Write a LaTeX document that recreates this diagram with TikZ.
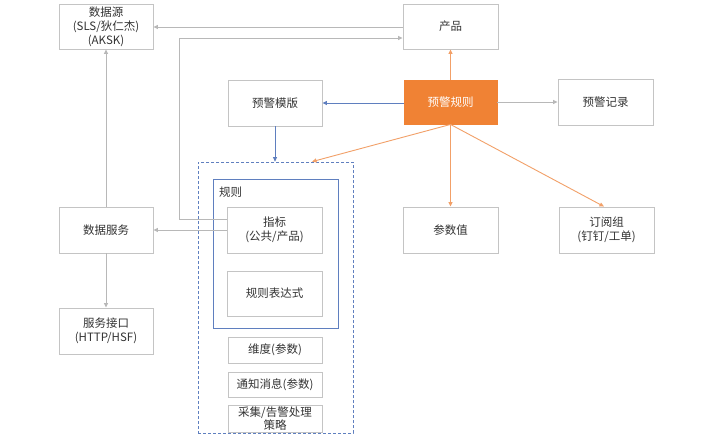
\documentclass[tikz,border=0pt]{standalone}
\usepackage{fontspec}
\setmainfont{Noto Sans CJK SC}
\usetikzlibrary{arrows.meta}
\definecolor{borange}{HTML}{F08234}
\definecolor{lorange}{HTML}{F2A068}
\definecolor{bblue}{HTML}{5F7FBF}
\definecolor{bgray}{HTML}{C4C4C4}
\definecolor{lgray}{HTML}{B8B8B8}
\definecolor{tcol}{HTML}{333333}
\begin{document}
\begin{tikzpicture}[x=1pt,y=-1pt,
  box/.style={draw=bgray,line width=0.9pt,fill=white,inner sep=0pt,font=\fontsize{11.5}{14}\selectfont,text=tcol,align=center},
  garrow/.style={draw=lgray,line width=0.8pt,-{Triangle[length=4.5pt,width=4pt]}},
  oarrow/.style={draw=lorange,line width=0.9pt,-{Triangle[length=4.5pt,width=4pt]}},
  barrow/.style={draw=bblue,line width=0.9pt,-{Triangle[length=4.5pt,width=4pt]}}]
\useasboundingbox (0,0) rectangle (720,439);
\fill[white] (0,0) rectangle (720,439);
\node[box,minimum width=94,minimum height=45] (src) at (106,26.5) {数据源\\(SLS/狄仁杰)\\(AKSK)};
\node[box,minimum width=95,minimum height=45] (prod) at (450.5,26.5) {产品};
\node[box,minimum width=94,minimum height=46] (tpl) at (275,103) {预警模版};
\node[draw=borange,fill=borange,line width=0.9pt,minimum width=93,minimum height=44,inner sep=0pt,text=white,font=\fontsize{11.5}{14}\selectfont] (rule) at (450.5,102) {预警规则};
\node[box,minimum width=95,minimum height=46] (rec) at (605.5,102) {预警记录};
\node[box,minimum width=95,minimum height=46] (param) at (450.5,230) {参数值};
\node[box,minimum width=95,minimum height=46] (sub) at (606.5,230) {订阅组\\(钉钉/工单)};
\node[box,minimum width=94,minimum height=46] (ds) at (106,230) {数据服务};
\node[box,minimum width=94,minimum height=46] (api) at (106,331) {服务接口\\(HTTP/HSF)};
% dashed outer
\node[draw=bblue,dash pattern=on 3pt off 2pt,line width=0.7pt,minimum width=155,minimum height=271,inner sep=0pt] (outer) at (275.5,297.5) {};
% rule group
\node[draw=bblue,line width=0.9pt,minimum width=125,minimum height=149,inner sep=0pt] (grp) at (275.5,253.5) {};
\node[anchor=west,inner sep=0pt,text=tcol,font=\fontsize{11.5}{14}\selectfont] (grplbl) at (219,192) {规则};
\node[box,minimum width=95,minimum height=46] (ind) at (274.5,230) {指标\\(公共/产品)};
\node[box,minimum width=95,minimum height=45] (expr) at (274.5,293.5) {规则表达式};
\node[box,minimum width=94,minimum height=26] (dim) at (275,350) {维度(参数)};
\node[box,minimum width=94,minimum height=25] (msg) at (275,384.5) {通知消息(参数)};
\node[box,minimum width=94,minimum height=27,font=\fontsize{11.5}{12.5}\selectfont] (pol) at (275,418.5) {采集/告警处理\\策略};
% connectors
\draw[garrow] (prod.west |- 0,27) -- (src.east |- 0,27);
\coordinate (c1) at (179,219);
\coordinate (c2) at (179,38);
\draw[garrow] (ind.west |- 0,219) -- (c1) -- (c2) -- (prod.west |- 0,38);
\draw[garrow] (ind.west |- 0,230) -- (ds.east |- 0,230);
\draw[garrow] (ds.north) -- (src.south);
\draw[garrow] (ds.south) -- (api.north);
\draw[oarrow] (rule.north) -- (prod.south);
\draw[barrow] (rule.west |- 0,103) -- (tpl.east |- 0,103);
\draw[garrow] (rule.east) -- (rec.west);
\draw[barrow] (tpl.south) -- (outer.north -| tpl.south);
\draw[oarrow] (rule.south) -- (outer.north -| 312,0);
\draw[oarrow] (rule.south) -- (param.north);
\draw[oarrow] (rule.south) -- (sub.north -| 604,0);
\end{tikzpicture}
\end{document}
